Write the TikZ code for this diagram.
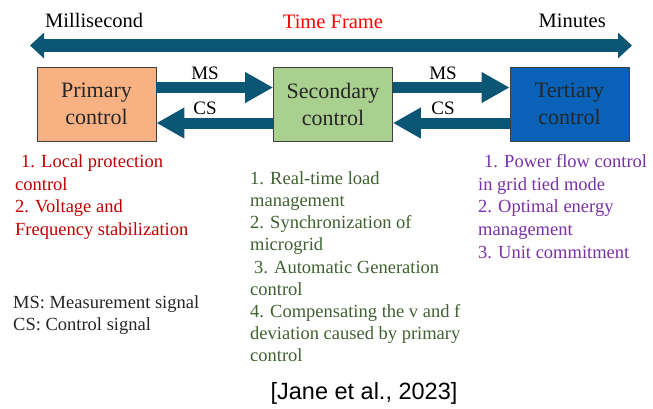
\documentclass[tikz,border=0pt]{standalone}
\usepackage{fontspec}
\setmainfont{Liberation Serif}
\newfontfamily\citefont{Liberation Sans}
\usetikzlibrary{arrows.meta}
\definecolor{arrowc}{HTML}{0B5575}
\definecolor{peach}{HTML}{F8B183}
\definecolor{lgreen}{HTML}{A9D08E}
\definecolor{tblue}{HTML}{0A62B8}
\definecolor{redtxt}{HTML}{C00000}
\definecolor{greentxt}{HTML}{3F6130}
\definecolor{purpletxt}{HTML}{7A30A8}
\newcommand{\topstrut}{\rule{0pt}{14pt}}
\tikzset{
  ctrlbox/.style={draw=black!75, line width=0.8pt, minimum width=119pt, minimum height=74pt, inner sep=0pt, align=center, font=\fontsize{22}{27}\selectfont, text=black!85},
  sig/.style={draw=arrowc, line width=11pt, -{Triangle[width=29pt,length=28pt]}},
  siglabel/.style={font=\fontsize{19}{21}\selectfont, inner sep=0pt},
  lst/.style={anchor=north west, align=left, inner sep=0pt, font=\fontsize{18.5}{22.8}\selectfont},
  toptxt/.style={font=\fontsize{20.5}{22}\selectfont, inner sep=0pt, anchor=base}
}
\begin{document}
\begin{tikzpicture}[x=1pt,y=-1pt]
\useasboundingbox (0,0) rectangle (653,408);
% time frame arrow
\coordinate (tl) at (30,45.5);
\coordinate (tr) at (632,45.5);
\draw[draw=arrowc, line width=12.5pt, {Triangle[width=25pt,length=14pt]}-{Triangle[width=25pt,length=14pt]}] (tl) -- (tr);
\node[toptxt, anchor=base west] (ms) at (45,27) {Millisecond};
\node[toptxt, text=red] (tf) at (333,28) {Time Frame};
\node[toptxt, anchor=base east] (mn) at (606,27) {Minutes};
% boxes
\node[ctrlbox, fill=peach] (p) at (96.5,104) {Primary\\control};
\node[ctrlbox, fill=lgreen] (s) at (333,104) {Secondary\\control};
\node[ctrlbox, fill=tblue] (t) at (569.5,104) {Tertiary\\control};
% signals
\draw[sig] ([yshift=16.5pt]p.east) -- ([yshift=16.5pt]s.west);
\draw[sig] ([yshift=-19pt]s.west) -- ([yshift=-19pt]p.east);
\draw[sig] ([yshift=16.5pt]s.east) -- ([yshift=16.5pt]t.west);
\draw[sig] ([yshift=-19pt]t.west) -- ([yshift=-19pt]s.east);
\node[siglabel] (ms1) at (205,73) {MS};
\node[siglabel] (cs1) at (205,108) {CS};
\node[siglabel] (ms2) at (443,73) {MS};
\node[siglabel] (cs2) at (443,108) {CS};
% lists (first baseline = y + 14)
\node[lst, text=redtxt] (rl) at (15,153) {\topstrut\hspace{6pt}1. Local protection\\control\\2. Voltage and\\Frequency stabilization};
\node[lst, text=greentxt, font=\fontsize{18.5}{22.2}\selectfont] (gl) at (250,170) {\topstrut 1. Real-time load\\management\\2. Synchronization of\\microgrid\\\hspace{4pt}3. Automatic Generation\\control\\4. Compensating the v and f\\deviation caused by primary\\control};
\node[lst, text=purpletxt] (pl) at (478,153) {\topstrut\hspace{6pt}1. Power flow control\\in grid tied mode\\2. Optimal energy\\management\\3. Unit commitment};
\node[lst, text=black!85, font=\fontsize{18.5}{22.5}\selectfont] (lg) at (13,294) {\topstrut MS: Measurement signal\\CS: Control signal};
\node[font=\citefont\fontsize{23.5}{26}\selectfont, inner sep=0pt] (cite) at (364,393) {[Jane et al., 2023]};
\end{tikzpicture}
\end{document}
